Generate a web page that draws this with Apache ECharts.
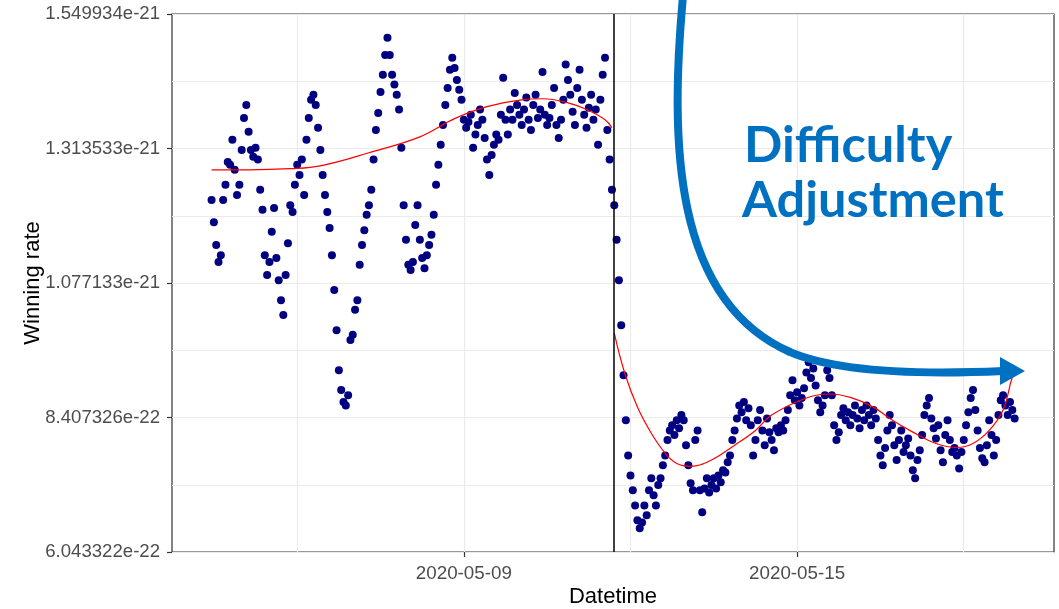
<!DOCTYPE html>
<html>
<head>
<meta charset="utf-8">
<title>Winning rate</title>
<script src="https://cdn.jsdelivr.net/npm/echarts@6/dist/echarts.min.js"></script>
<style>
  html, body { margin: 0; padding: 0; background: #ffffff; }
  #chart { width: 1059px; height: 609px; }
</style>
</head>
<body>
<div id="chart"></div>
<script>
// Winning rate per hour, in units of 1e-22, sampled hourly from START_TIME.
const START_TIME = '2020-05-04 11:00';
const WIN_RATE_BEFORE = [
  12.23, 11.84, 11.44, 11.14, 11.26, 12.23, 12.50, 12.90, 12.85, 13.29,
  12.76, 12.32, 12.50, 13.11, 13.67, 13.90, 13.43, 13.11, 12.99, 13.15,
  12.94, 12.41, 12.06, 11.26, 10.91, 11.14, 11.67, 12.09, 11.21, 10.82,
  10.47, 10.21, 10.91, 11.47, 12.14, 12.02, 12.50, 12.85, 12.67, 12.94,
  12.32, 13.29, 13.67, 13.99, 14.08, 13.90, 13.50, 13.11, 12.67, 12.32,
  12.02, 11.74, 11.26, 10.65, 9.94, 9.24, 8.89, 8.68, 8.62, 8.80,
  9.77, 9.86, 10.30, 10.47, 11.09, 11.44, 11.70, 11.97, 12.14, 12.41,
  12.94, 13.46, 13.76, 14.13, 14.43, 14.78, 15.08, 14.78, 14.43, 14.26,
  14.08, 13.82, 13.15, 12.14, 11.53, 11.09, 11.00, 11.14, 11.79, 12.14,
  11.53, 11.21, 11.03, 11.26, 11.44, 11.62, 11.97, 12.50, 12.85, 13.20,
  13.55, 13.90, 14.20, 14.52, 14.73, 14.55, 14.34, 14.17, 13.99, 13.64,
  13.50, 13.60, 13.73, 13.15, 13.38, 13.55, 13.82, 13.64, 13.32, 12.94,
  12.67, 13.02, 13.20, 13.38, 13.29, 13.73, 14.38, 13.64, 13.38, 13.82,
  13.64, 14.11, 13.90, 13.73, 13.55, 13.82, 14.03, 13.64, 13.46, 13.90,
  14.08, 13.67, 13.82, 14.48, 13.73, 13.55, 13.67, 13.90, 14.20, 13.55,
  13.32, 13.64, 13.99, 14.61, 14.34, 14.08, 13.78, 13.55, 14.20, 14.52,
  13.99, 13.73, 13.50, 13.85, 14.08, 13.64, 13.82, 13.20, 13.99, 14.43,
  14.73, 13.46, 12.94, 12.41
];
const WIN_RATE_AFTER = [
  12.14, 11.53, 10.82, 10.03, 9.15, 8.36, 7.74, 7.39, 7.13, 6.86,
  6.60, 6.46, 6.56, 6.86, 6.69, 7.13, 7.34, 7.04, 6.86, 7.22,
  7.34, 7.57, 7.74, 8.01, 8.18, 8.27, 8.10, 8.36, 8.22, 8.45,
  8.36, 7.92, 7.57, 7.25, 7.13, 8.01, 8.18, 7.13, 6.74, 7.16,
  7.34, 7.09, 7.22, 7.34, 7.16, 7.39, 7.27, 7.48, 7.44, 7.62,
  7.74, 8.01, 8.18, 8.39, 8.62, 8.50, 8.68, 8.36, 8.57, 8.27,
  7.74, 8.01, 8.36, 8.54, 8.18, 7.92, 8.39, 8.15, 8.01, 7.83,
  8.22, 8.15, 8.27, 8.18, 8.36, 8.54, 8.80, 9.06, 8.71, 8.85,
  8.62, 8.75, 8.92, 9.20, 9.38, 9.10, 9.27, 8.97, 8.71, 8.50,
  8.62, 8.80, 9.24, 9.10, 8.80, 8.27, 8.01, 8.15, 8.45, 8.57,
  8.36, 8.50, 8.27, 8.45, 8.62, 8.39, 8.22, 8.54, 8.36, 8.62,
  8.45, 8.27, 8.54, 8.39, 8.01, 7.74, 7.57, 7.87, 8.18, 8.45,
  8.27, 7.92, 7.66, 8.01, 8.18, 7.80, 7.92, 8.04, 7.74, 7.48,
  7.34, 7.66, 7.83, 8.10, 8.45, 8.62, 8.75, 8.39, 8.22, 8.04,
  8.27, 7.83, 7.62, 8.10, 8.36, 8.01, 7.80, 7.87, 7.74, 7.51,
  7.80, 8.01, 8.27, 8.50, 8.75, 8.89, 8.54, 8.18, 7.87, 7.69,
  7.62, 7.92, 8.36, 8.10, 7.74, 8.01, 8.45, 8.71, 8.80, 8.62,
  8.45, 8.68, 8.54, 8.39
];

// Smoothed trend, fitted separately on each side of the adjustment.
const FIT_BEFORE_TIME = [
  '2020-05-04 11:00', '2020-05-05 03:00', '2020-05-05 21:00', '2020-05-06 10:00',
  '2020-05-07 07:00', '2020-05-08 05:00', '2020-05-08 20:00', '2020-05-09 10:00',
  '2020-05-10 01:00', '2020-05-10 10:00', '2020-05-10 20:00', '2020-05-11 05:00',
  '2020-05-11 13:00', '2020-05-11 16:00'
];
const FIT_BEFORE_VALUE = [
  12.76, 12.76, 12.78, 12.83, 13.06, 13.34, 13.66, 13.87,
  13.99, 14.01, 13.95, 13.82, 13.64, 13.50
];
const FIT_AFTER_TIME = [
  '2020-05-11 17:00', '2020-05-11 21:30', '2020-05-12 03:00', '2020-05-12 09:00',
  '2020-05-12 15:00', '2020-05-12 20:00', '2020-05-13 02:00', '2020-05-13 11:00',
  '2020-05-13 21:00', '2020-05-14 06:00', '2020-05-14 13:00', '2020-05-15 04:00',
  '2020-05-15 14:00', '2020-05-15 23:00', '2020-05-16 09:00', '2020-05-16 16:00',
  '2020-05-17 02:00', '2020-05-17 12:00', '2020-05-17 21:00', '2020-05-18 04:00',
  '2020-05-18 11:00', '2020-05-18 17:00', '2020-05-18 21:00', '2020-05-18 23:00'
];
const FIT_AFTER_VALUE = [
  9.89, 9.19, 8.59, 8.13, 7.78, 7.60, 7.55, 7.66,
  7.92, 8.18, 8.45, 8.75, 8.82, 8.76, 8.59, 8.39,
  8.15, 7.95, 7.88, 7.95, 8.18, 8.54, 9.12, 9.27
];

const ADJUSTMENT_TIME = '2020-05-11 16:52';

// Axis ticks
const Y_TICK_LABELS = ['6.043322e-22', '8.407326e-22', '1.077133e-21', '1.313533e-21', '1.549934e-21'];
const Y_MIN = 6.043322;
const Y_STEP = 2.3640045;
const X_TICKS = ['2020-05-09', '2020-05-15'];
const X_GRID = ['2020-05-06', '2020-05-09', '2020-05-12', '2020-05-15', '2020-05-18'];
const X_RANGE = ['2020-05-03 17:54', '2020-05-19 15:00'];

const toMs = s => new Date(s.replace(' ', 'T') + (s.length === 10 ? 'T00:00' : '')).getTime();
const HOUR = 3600 * 1000;

const t0 = toMs(START_TIME);
const pointsBefore = WIN_RATE_BEFORE.map((v, i) => [t0 + i * HOUR, v]);
const t1 = t0 + WIN_RATE_BEFORE.length * HOUR;
const pointsAfter = WIN_RATE_AFTER.map((v, i) => [t1 + i * HOUR, v]);
const fitBefore = FIT_BEFORE_TIME.map((t, i) => [toMs(t), FIT_BEFORE_VALUE[i]]);
const fitAfter = FIT_AFTER_TIME.map((t, i) => [toMs(t), FIT_AFTER_VALUE[i]]);

const xTickMs = X_TICKS.map(toMs);
const xGridMs = X_GRID.map(toMs);

const FONT = '"Liberation Sans", Arial, sans-serif';
const BLUE = '#0070C0';
const NOTE_FONT = 'bold 50.5px Lato, "Open Sans", sans-serif';

const chart = echarts.init(document.getElementById('chart'), null, { renderer: 'canvas' });

const xBase = {
  type: 'value',
  min: toMs(X_RANGE[0]),
  max: toMs(X_RANGE[1]),
  axisLine: { show: false }
};

chart.setOption({
  animation: false,
  backgroundColor: '#ffffff',
  grid: {
    left: 172, right: 5, top: 14, bottom: 57,
    containLabel: false, outerBoundsMode: 'none',
    show: true, borderColor: '#333333', borderWidth: 1.2, backgroundColor: '#ffffff'
  },
  xAxis: [
    Object.assign({}, xBase, {
      name: 'Datetime',
      nameLocation: 'middle',
      nameGap: 34,
      nameTextStyle: { color: '#000000', fontSize: 22, fontFamily: FONT },
      axisTick: { show: false, customValues: xGridMs },
      axisLabel: { show: false },
      splitLine: { show: true, lineStyle: { color: '#EBEBEB', width: 1.2 } }
    }),
    Object.assign({}, xBase, {
      position: 'bottom',
      axisTick: { show: true, length: 5, customValues: xTickMs, lineStyle: { color: '#333333', width: 1.2 } },
      axisLabel: {
        customValues: xTickMs,
        color: '#4D4D4D', fontSize: 18.8, fontFamily: FONT, margin: 12,
        formatter: v => X_TICKS[xTickMs.indexOf(v)] || ''
      },
      splitLine: { show: false }
    })
  ],
  yAxis: {
    type: 'value',
    min: Y_MIN,
    max: Y_MIN + 4 * Y_STEP,
    interval: Y_STEP,
    name: 'Winning rate',
    nameLocation: 'middle',
    nameGap: 128,
    nameMoveOverlap: false,
    nameTextStyle: { color: '#000000', fontSize: 22, fontFamily: FONT },
    axisLine: { show: false },
    axisTick: { show: true, length: 5, lineStyle: { color: '#333333', width: 1.2 } },
    axisLabel: {
      color: '#4D4D4D', fontSize: 18.6, fontFamily: FONT, margin: 12,
      formatter: v => Y_TICK_LABELS[Math.round((v - Y_MIN) / Y_STEP)]
    },
    splitLine: { show: true, lineStyle: { color: '#EBEBEB', width: 1.2 } },
    minorTick: { show: false, splitNumber: 2 },
    minorSplitLine: { show: true, lineStyle: { color: '#EBEBEB', width: 1 } }
  },
  series: [
    {
      type: 'scatter', xAxisIndex: 0, data: pointsBefore,
      symbol: 'circle', symbolSize: 8,
      itemStyle: { color: '#000080', opacity: 1 }, z: 3, silent: true
    },
    {
      type: 'scatter', xAxisIndex: 0, data: pointsAfter,
      symbol: 'circle', symbolSize: 8,
      itemStyle: { color: '#000080', opacity: 1 }, z: 3, silent: true
    },
    {
      type: 'line', xAxisIndex: 0, data: fitBefore, smooth: 0.4,
      showSymbol: false, lineStyle: { color: '#FF0000', width: 1.2 }, z: 4, silent: true
    },
    {
      type: 'line', xAxisIndex: 0, data: fitAfter, smooth: 0.4,
      showSymbol: false, lineStyle: { color: '#FF0000', width: 1.2 }, z: 4, silent: true,
      markLine: {
        silent: true, symbol: 'none', label: { show: false },
        lineStyle: { color: '#000000', width: 1.5, type: 'solid' },
        data: [{ xAxis: toMs(ADJUSTMENT_TIME) }]
      }
    }
  ],
  graphic: [
    {
      type: 'bezierCurve', z: 100, silent: true,
      shape: { x1: 683, y1: -4, cpx1: 670, cpy1: 140, cpx2: 672, cpy2: 300, x2: 790, y2: 352 },
      style: { stroke: BLUE, lineWidth: 8, fill: null }
    },
    {
      type: 'bezierCurve', z: 100, silent: true,
      shape: { x1: 789, y1: 351.6, cpx1: 850, cpy1: 378, x2: 1003, y2: 371 },
      style: { stroke: BLUE, lineWidth: 8, fill: null }
    },
    {
      type: 'polygon', z: 100, silent: true,
      shape: { points: [[1000, 357], [1025, 371], [1000, 385]] },
      style: { fill: BLUE }
    },
    {
      type: 'text', z: 100, silent: true, left: 744, top: 120,
      style: { text: 'Difficulty', fill: BLUE, font: NOTE_FONT }
    },
    {
      type: 'text', z: 100, silent: true, left: 742, top: 175,
      style: { text: 'Adjustment', fill: BLUE, font: NOTE_FONT }
    }
  ]
});
</script>
</body>
</html>
